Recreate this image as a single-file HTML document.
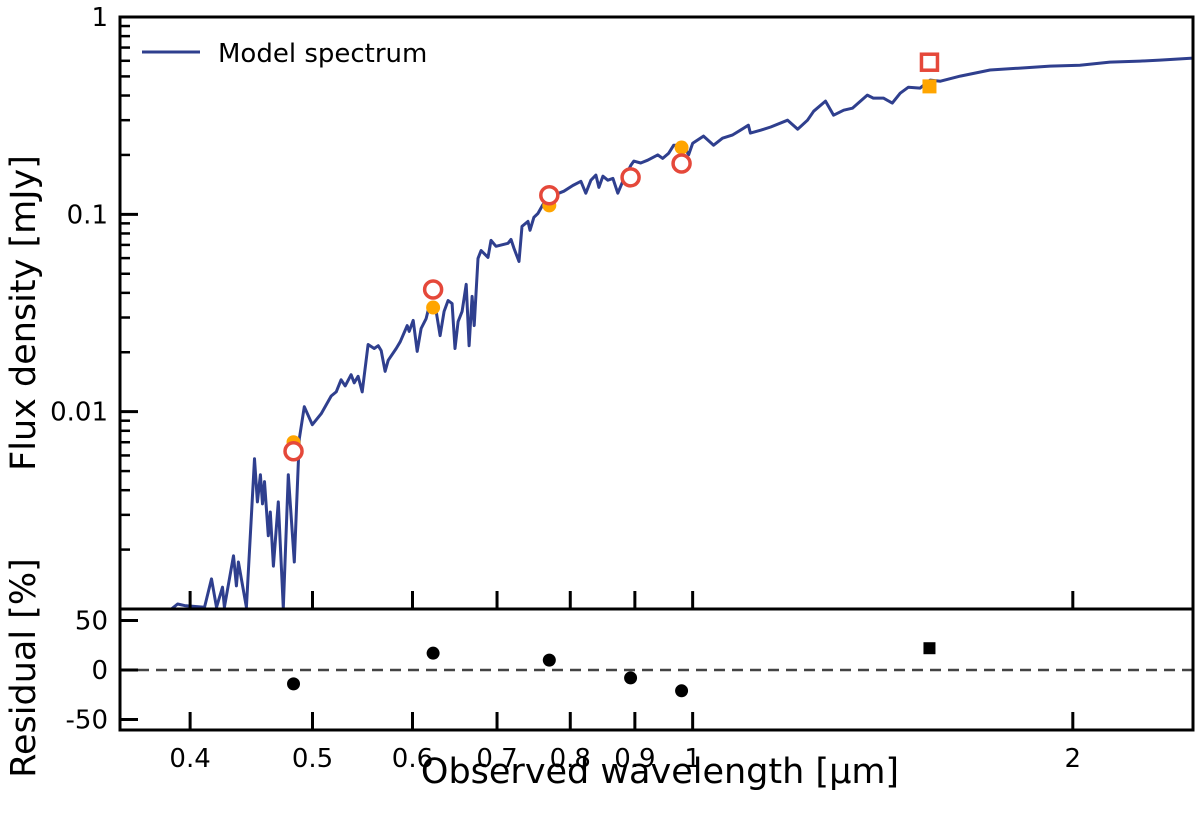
<!DOCTYPE html>
<html><head><meta charset="utf-8"><style>
html,body{margin:0;padding:0;background:#fff;}
svg{display:block;font-family:"DejaVu Sans","Liberation Sans",sans-serif;}
</style></head><body>
<svg id="c" width="1200" height="824" viewBox="0 0 1200 824">
<defs>
<clipPath id="clipTop"><rect x="120" y="17" width="1073" height="592"/></clipPath>
</defs>
<g id="topPanel"></g>
<g id="botPanel"></g>
<g id="labels">
<text x="660" y="783" font-size="35" text-anchor="middle">Observed wavelength [μm]</text>
<text transform="translate(35,313) rotate(-90)" font-size="35" text-anchor="middle">Flux density [mJy]</text>
<text transform="translate(35,668) rotate(-90)" font-size="35" text-anchor="middle">Residual [%]</text>
</g>
<g>
<line x1="142" y1="52" x2="200" y2="52" stroke="#2f3f8e" stroke-width="3"/>
<text x="218" y="62" font-size="26">Model spectrum</text>
</g>
</svg>
<script>
const specWave=[0.3866,0.391,0.396,0.4106,0.4159,0.4197,0.4243,0.4258,0.4329,0.4352,0.4368,0.4432,0.4498,0.4522,0.4547,0.4564,0.4581,0.4613,0.463,0.4656,0.4698,0.4741,0.4784,0.4837,0.4881,0.4926,0.4998,0.508,0.5173,0.5221,0.5268,0.5307,0.5365,0.5395,0.5434,0.5474,0.5534,0.5595,0.5636,0.5667,0.5708,0.574,0.5824,0.5867,0.5942,0.5964,0.6008,0.6052,0.6095,0.6151,0.6184,0.6263,0.631,0.6356,0.6402,0.6449,0.6484,0.652,0.6568,0.6617,0.6653,0.6689,0.6714,0.6761,0.6799,0.6886,0.6924,0.6987,0.7142,0.718,0.722,0.7286,0.7326,0.7407,0.7433,0.7487,0.7542,0.761,0.768,0.7764,0.7907,0.8037,0.8156,0.823,0.8306,0.8382,0.8429,0.849,0.8567,0.8646,0.8724,0.8804,0.8934,0.8983,0.9097,0.9213,0.9383,0.9469,0.9572,0.966,0.9837,0.9927,1.0,1.02,1.039,1.056,1.075,1.091,1.107,1.111,1.132,1.153,1.189,1.211,1.233,1.247,1.274,1.293,1.317,1.338,1.375,1.39,1.416,1.439,1.46,1.482,1.514,1.542,1.571,1.629,1.72,1.817,1.919,2.026,2.14,2.261,2.344,2.489];
const specFlux=[0.001,0.00106,0.00104,0.00102,0.00142,0.00102,0.00129,0.00102,0.00186,0.00131,0.00173,0.00102,0.00577,0.00349,0.00479,0.00341,0.00442,0.00235,0.0031,0.00165,0.00349,0.00101,0.00479,0.00173,0.00729,0.0106,0.00859,0.00977,0.012,0.0126,0.0145,0.0135,0.0154,0.014,0.0151,0.0126,0.0219,0.0209,0.0216,0.0204,0.016,0.0182,0.0209,0.0226,0.0273,0.0255,0.029,0.0202,0.0264,0.0296,0.0341,0.0326,0.0243,0.0322,0.0366,0.0353,0.0209,0.0286,0.0322,0.0442,0.0216,0.0384,0.0273,0.0598,0.0656,0.0605,0.0738,0.0689,0.0713,0.0746,0.0672,0.0577,0.0869,0.0921,0.083,0.0966,0.101,0.112,0.121,0.125,0.131,0.14,0.147,0.128,0.149,0.158,0.137,0.156,0.149,0.152,0.128,0.147,0.177,0.186,0.182,0.188,0.2,0.192,0.204,0.224,0.224,0.2,0.229,0.249,0.224,0.243,0.252,0.267,0.283,0.258,0.267,0.277,0.3,0.27,0.3,0.333,0.375,0.318,0.337,0.345,0.402,0.388,0.388,0.366,0.411,0.441,0.436,0.479,0.473,0.502,0.539,0.551,0.564,0.57,0.591,0.598,0.605,0.619];
const photWave=[0.483,0.623,0.770,0.893,0.980];
const photObs=[0.0063,0.0416,0.125,0.154,0.181];
const photModel=[0.0070,0.0337,0.111,0.155,0.218];
const sqWave=[1.54];
const sqObs=[0.59];
const sqModel=[0.445];
const residCircle=[-14,17,10,-8,-21];
const residSquare=[22];
const xTicks=[0.4,0.5,0.6,0.7,0.8,0.9,1,2];
const xTickLabels=["0.4","0.5","0.6","0.7","0.8","0.9","1","2"];
const yTicks=[0.01,0.1,1];
const yTickLabels=["0.01","0.1","1"];
const rTicks=[50,0,-50];
const rTickLabels=["50","0","-50"];

const NS='http://www.w3.org/2000/svg';
const L=120,R=1193,T=17,M=609,B=730;
const xLo=0.352,xHi=2.49;
const yLo=0.001,yHi=1.0;
const rLo=-60.6,rHi=61.6;
function X(w){return L+(Math.log10(w)-Math.log10(xLo))/(Math.log10(xHi)-Math.log10(xLo))*(R-L);}
function Y(f){return M-(Math.log10(f)-Math.log10(yLo))/(Math.log10(yHi)-Math.log10(yLo))*(M-T);}
function RY(r){return B-(r-rLo)/(rHi-rLo)*(B-M);}
function mk(tag,attrs,parent){const e=document.createElementNS(NS,tag);for(const k in attrs)e.setAttribute(k,attrs[k]);parent.appendChild(e);return e;}
const gTop=document.getElementById('topPanel'),gBot=document.getElementById('botPanel');

let d=specWave.map((w,i)=>(i?'L':'M')+X(w).toFixed(1)+','+Y(specFlux[i]).toFixed(1)).join(' ');
const line=mk('path',{d:d,fill:'none',stroke:'#2f3f8e','stroke-width':3,'stroke-linejoin':'round','clip-path':'url(#clipTop)'},gTop);



photWave.forEach((w,i)=>{
 const c=mk('circle',{cx:X(w),cy:Y(photModel[i]),r:7,fill:'#ffa500'},gTop);
 
 
});
sqWave.forEach((w,i)=>{
 const s=mk('rect',{x:X(w)-7,y:Y(sqModel[i])-7,width:14,height:14,fill:'#ffa500'},gTop);
 
 
});
photWave.forEach((w,i)=>{
 const c=mk('circle',{cx:X(w),cy:Y(photObs[i]),r:8.5,fill:'#fff',stroke:'#e5483a','stroke-width':3.5},gTop);
 
 
});
sqWave.forEach((w,i)=>{
 const s=mk('rect',{x:X(w)-8,y:Y(sqObs[i])-8,width:16,height:16,fill:'#fff',stroke:'#e5483a','stroke-width':3.5},gTop);
 
 
});

const z=mk('line',{x1:L,x2:R,y1:RY(0),y2:RY(0),stroke:'#444','stroke-width':2.5,'stroke-dasharray':'11,7'},gBot);


photWave.forEach((w,i)=>{
 const c=mk('circle',{cx:X(w),cy:RY(residCircle[i]),r:6.5,fill:'#000'},gBot);
 
 
});
sqWave.forEach((w,i)=>{
 const s=mk('rect',{x:X(w)-6,y:RY(residSquare[i])-6,width:12,height:12,fill:'#000'},gBot);
 
 
});

xTicks.forEach((t,i)=>{
 const x=X(t);
 const a=mk('line',{x1:x,x2:x,y1:M,y2:M-18,stroke:'#000','stroke-width':3},gTop);
 
 
 const b=mk('line',{x1:x,x2:x,y1:B,y2:B-18,stroke:'#000','stroke-width':3},gBot);
 
 
 const tx=mk('text',{x:x,y:B+37,'font-size':26,'text-anchor':'middle'},gBot);
 tx.textContent=xTickLabels[i];
 
 
});
for(let dec=-3;dec<0;dec++){
 for(let m=2;m<=9;m++){
  const v=m*Math.pow(10,dec);const y=Y(v);
  const t=mk('line',{x1:L,x2:L+10,y1:y,y2:y,stroke:'#000','stroke-width':2.5},gTop);
  
  
 }
}
yTicks.forEach((v,i)=>{
 const y=Y(v);
 const t=mk('line',{x1:L,x2:L+18,y1:y,y2:y,stroke:'#000','stroke-width':3},gTop);
 
 
 const tx=mk('text',{x:L-12,y:y+9,'font-size':26,'text-anchor':'end'},gTop);
 tx.textContent=yTickLabels[i];
 
 
});
rTicks.forEach((v,i)=>{
 const y=RY(v);
 const t=mk('line',{x1:L,x2:L+18,y1:y,y2:y,stroke:'#000','stroke-width':3},gBot);
 
 
 const tx=mk('text',{x:L-12,y:y+9,'font-size':26,'text-anchor':'end'},gBot);
 tx.textContent=rTickLabels[i];
 
 
});
const f1=mk('rect',{x:L,y:T,width:R-L,height:M-T,fill:'none',stroke:'#000','stroke-width':3},gTop);


const f2=mk('rect',{x:L,y:M,width:R-L,height:B-M,fill:'none',stroke:'#000','stroke-width':3},gBot);


</script>
</body></html>
